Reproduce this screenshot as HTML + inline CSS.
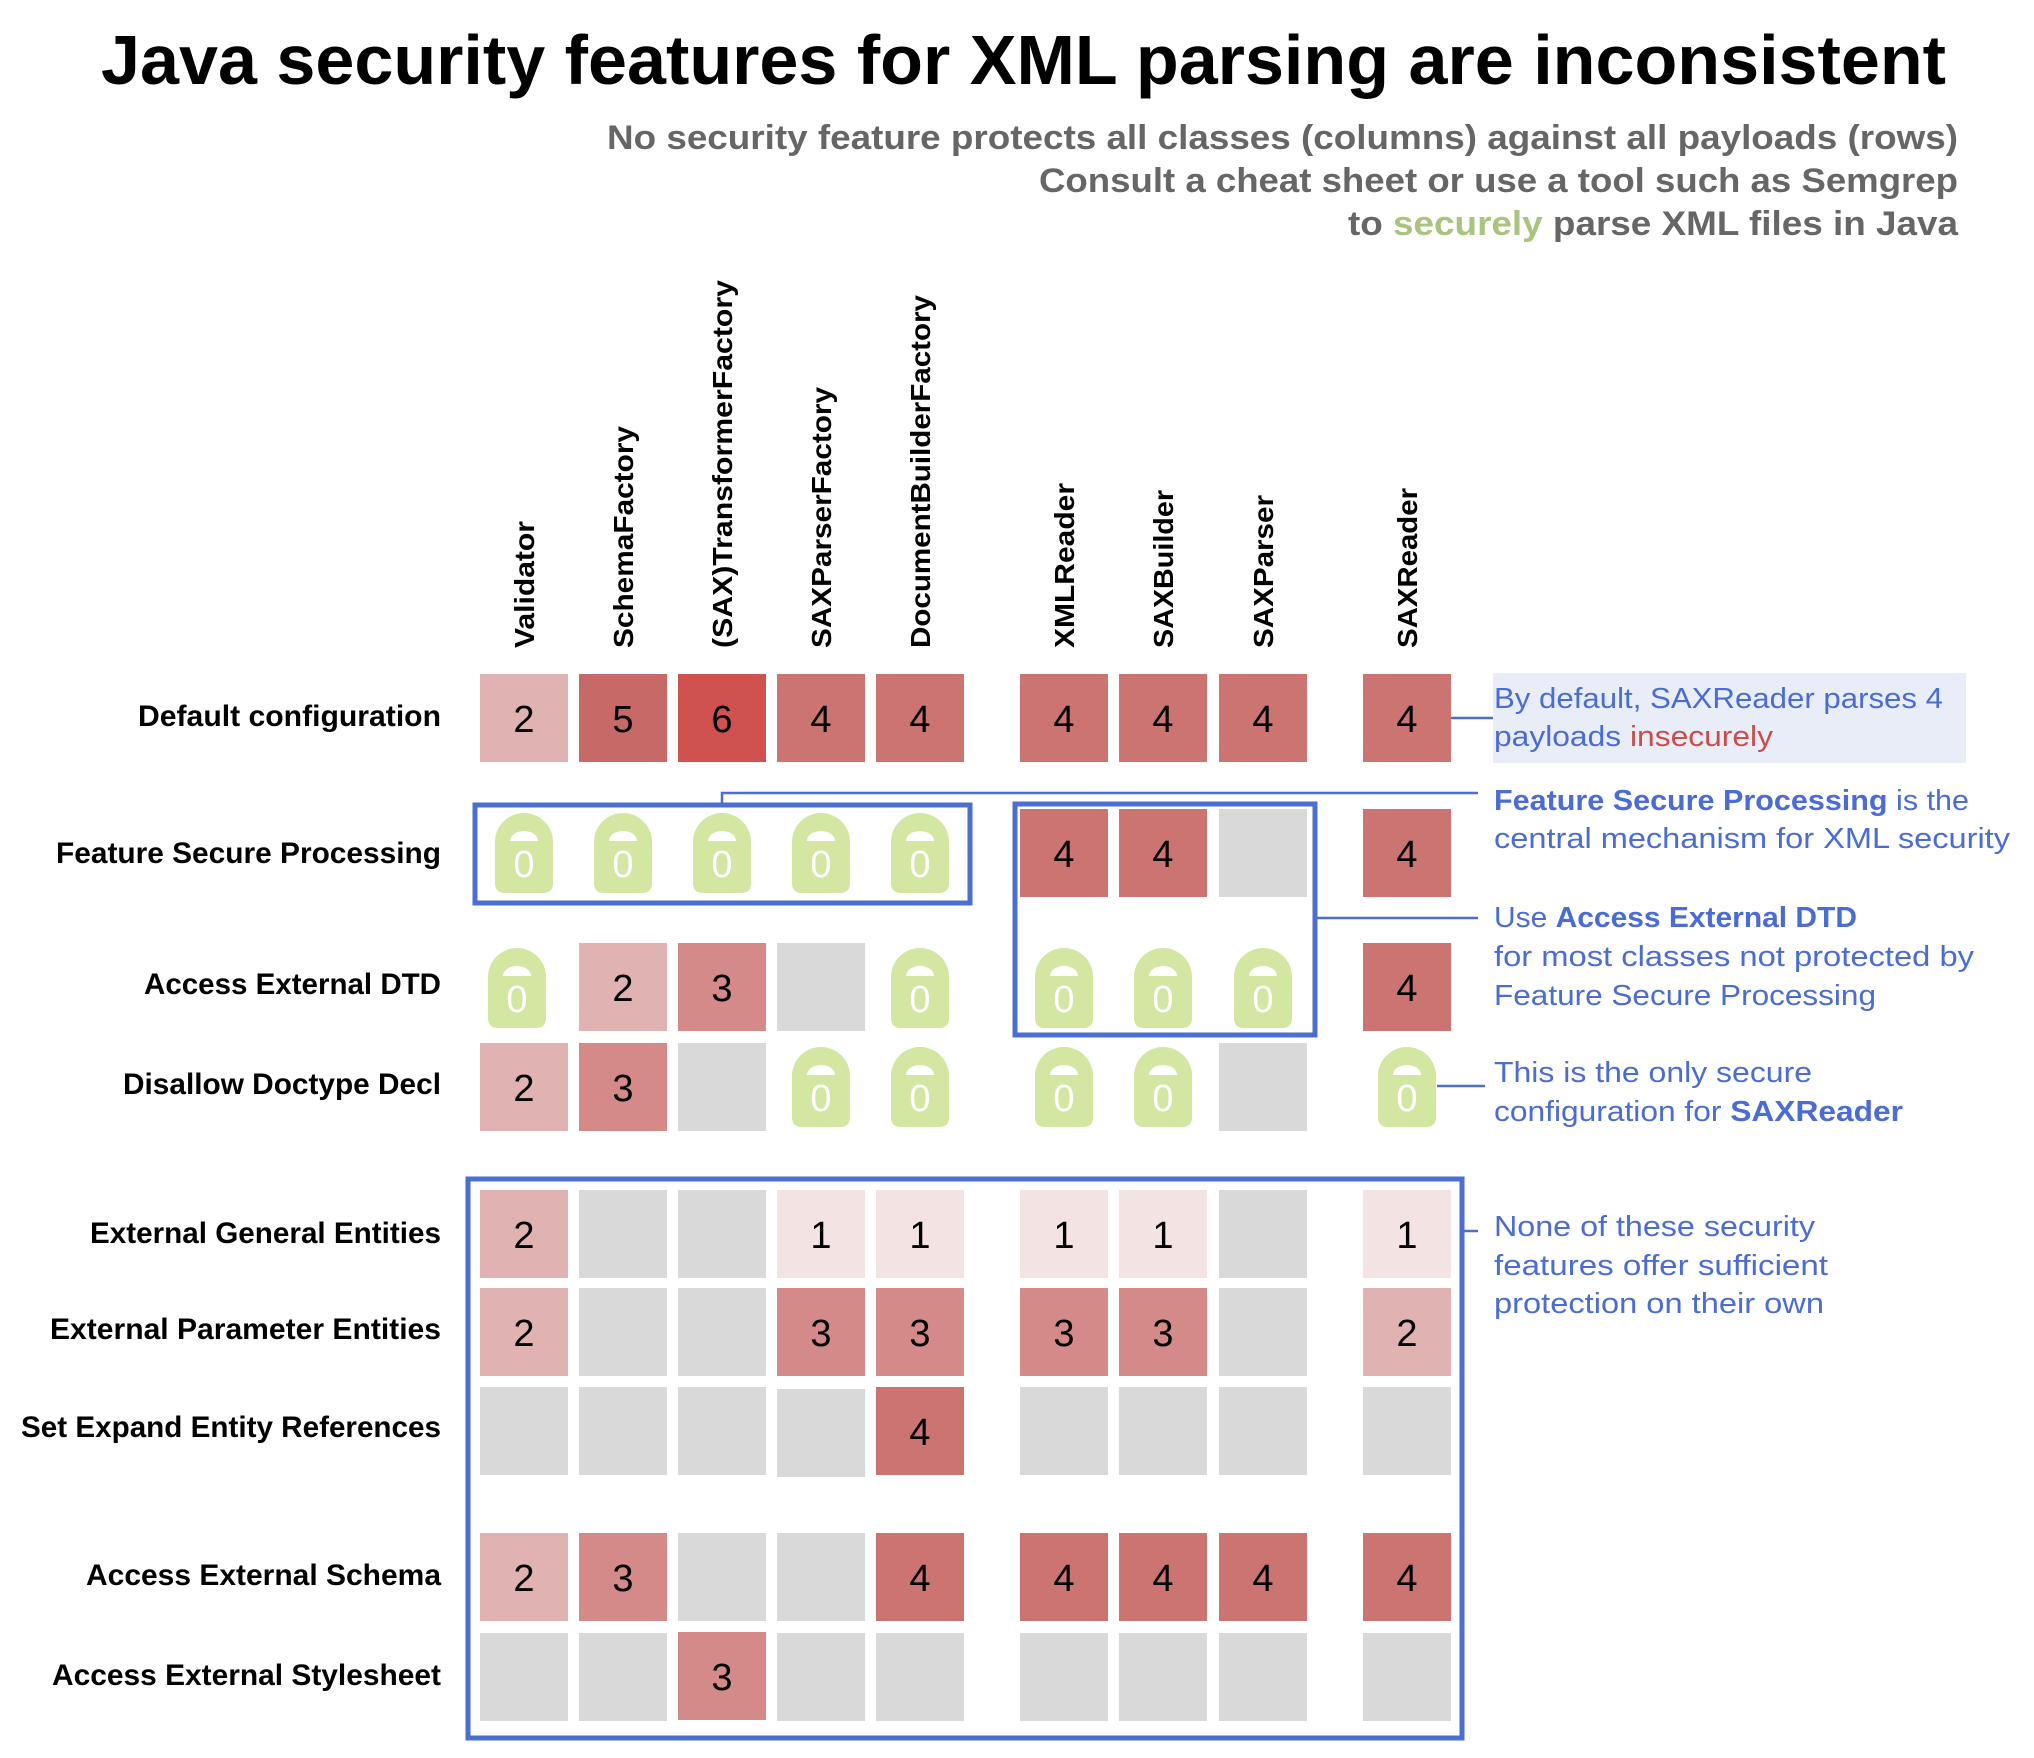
<!DOCTYPE html>
<html><head><meta charset="utf-8"><style>html,body{margin:0;padding:0;background:#fff}svg{display:block}</style></head>
<body>
<svg xmlns="http://www.w3.org/2000/svg" width="2034" height="1758" viewBox="0 0 2034 1758">
<defs>
<g id="lock">
<path d="M-29 0 A29 29 0 0 1 29 0 V41 Q29 51 19 51 H-19 Q-29 51 -29 41 Z" fill="#d3e6a2"/>
<path d="M-14 -1 A14 10 0 0 1 14 -1 Z" fill="#fff"/>
</g>
</defs>
<rect width="2034" height="1758" fill="#fff"/>
<g font-family="Liberation Sans, sans-serif" font-weight="bold">
<text x="101" y="84" font-size="70" textLength="1845" lengthAdjust="spacingAndGlyphs">Java security features for XML parsing are inconsistent</text>
<g fill="#666" font-size="34" text-anchor="end">
<text x="1966" y="149" textLength="1351" lengthAdjust="spacingAndGlyphs" transform="translate(-8,0)">No security feature protects all classes (columns) against all payloads (rows)</text>
<text x="1958" y="192" textLength="919" lengthAdjust="spacingAndGlyphs">Consult a cheat sheet or use a tool such as Semgrep</text>
<text x="1958" y="235" textLength="610" lengthAdjust="spacingAndGlyphs">to <tspan fill="#a9c47f">securely</tspan> parse XML files in Java</text>
</g>
<g font-size="28">
<text transform="translate(534,648) rotate(-90)" textLength="127" lengthAdjust="spacingAndGlyphs">Validator</text>
<text transform="translate(633,648) rotate(-90)" textLength="222" lengthAdjust="spacingAndGlyphs">SchemaFactory</text>
<text transform="translate(732,648) rotate(-90)" textLength="368" lengthAdjust="spacingAndGlyphs">(SAX)TransformerFactory</text>
<text transform="translate(831,648) rotate(-90)" textLength="261" lengthAdjust="spacingAndGlyphs">SAXParserFactory</text>
<text transform="translate(930,648) rotate(-90)" textLength="353" lengthAdjust="spacingAndGlyphs">DocumentBuilderFactory</text>
<text transform="translate(1074,648) rotate(-90)" textLength="165" lengthAdjust="spacingAndGlyphs">XMLReader</text>
<text transform="translate(1173,648) rotate(-90)" textLength="158" lengthAdjust="spacingAndGlyphs">SAXBuilder</text>
<text transform="translate(1273,648) rotate(-90)" textLength="153" lengthAdjust="spacingAndGlyphs">SAXParser</text>
<text transform="translate(1417,648) rotate(-90)" textLength="160" lengthAdjust="spacingAndGlyphs">SAXReader</text>
</g>
<g font-size="30" text-anchor="end">
<text x="441" y="726" textLength="303" lengthAdjust="spacingAndGlyphs">Default configuration</text>
<text x="441" y="870" textLength="385" lengthAdjust="spacingAndGlyphs" transform="translate(0,-7)">Feature Secure Processing</text>
<text x="441" y="994" textLength="297" lengthAdjust="spacingAndGlyphs">Access External DTD</text>
<text x="441" y="1094" textLength="318" lengthAdjust="spacingAndGlyphs">Disallow Doctype Decl</text>
<text x="441" y="1243" textLength="351" lengthAdjust="spacingAndGlyphs">External General Entities</text>
<text x="441" y="1339" textLength="391" lengthAdjust="spacingAndGlyphs">External Parameter Entities</text>
<text x="441" y="1437" textLength="420" lengthAdjust="spacingAndGlyphs">Set Expand Entity References</text>
<text x="441" y="1585" textLength="355" lengthAdjust="spacingAndGlyphs">Access External Schema</text>
<text x="441" y="1685" textLength="389" lengthAdjust="spacingAndGlyphs">Access External Stylesheet</text>
</g>
</g>

<g id="cells">
<rect x="480" y="674" width="88" height="88" fill="#e0b2b2"/>
<rect x="579" y="674" width="88" height="88" fill="#c76966"/>
<rect x="678" y="674" width="88" height="88" fill="#d0524f"/>
<rect x="777" y="674" width="88" height="88" fill="#cb7471"/>
<rect x="876" y="674" width="88" height="88" fill="#cb7471"/>
<rect x="1020" y="674" width="88" height="88" fill="#cb7471"/>
<rect x="1119" y="674" width="88" height="88" fill="#cb7471"/>
<rect x="1219" y="674" width="88" height="88" fill="#cb7471"/>
<rect x="1363" y="674" width="88" height="88" fill="#cb7471"/>
<rect x="1020" y="809" width="88" height="88" fill="#cb7471"/>
<rect x="1119" y="809" width="88" height="88" fill="#cb7471"/>
<rect x="1219" y="809" width="88" height="88" fill="#d9d9d9"/>
<rect x="1363" y="809" width="88" height="88" fill="#cb7471"/>
<rect x="579" y="943" width="88" height="88" fill="#e0b2b2"/>
<rect x="678" y="943" width="88" height="88" fill="#d48a88"/>
<rect x="777" y="943" width="88" height="88" fill="#d9d9d9"/>
<rect x="1363" y="943" width="88" height="88" fill="#cb7471"/>
<rect x="480" y="1043" width="88" height="88" fill="#e0b2b2"/>
<rect x="579" y="1043" width="88" height="88" fill="#d48a88"/>
<rect x="678" y="1043" width="88" height="88" fill="#d9d9d9"/>
<rect x="1219" y="1043" width="88" height="88" fill="#d9d9d9"/>
<rect x="480" y="1190" width="88" height="88" fill="#e0b2b2"/>
<rect x="579" y="1190" width="88" height="88" fill="#d9d9d9"/>
<rect x="678" y="1190" width="88" height="88" fill="#d9d9d9"/>
<rect x="777" y="1190" width="88" height="88" fill="#f3e3e3"/>
<rect x="876" y="1190" width="88" height="88" fill="#f3e3e3"/>
<rect x="1020" y="1190" width="88" height="88" fill="#f3e3e3"/>
<rect x="1119" y="1190" width="88" height="88" fill="#f3e3e3"/>
<rect x="1219" y="1190" width="88" height="88" fill="#d9d9d9"/>
<rect x="1363" y="1190" width="88" height="88" fill="#f3e3e3"/>
<rect x="480" y="1288" width="88" height="88" fill="#e0b2b2"/>
<rect x="579" y="1288" width="88" height="88" fill="#d9d9d9"/>
<rect x="678" y="1288" width="88" height="88" fill="#d9d9d9"/>
<rect x="777" y="1288" width="88" height="88" fill="#d48a88"/>
<rect x="876" y="1288" width="88" height="88" fill="#d48a88"/>
<rect x="1020" y="1288" width="88" height="88" fill="#d48a88"/>
<rect x="1119" y="1288" width="88" height="88" fill="#d48a88"/>
<rect x="1219" y="1288" width="88" height="88" fill="#d9d9d9"/>
<rect x="1363" y="1288" width="88" height="88" fill="#e0b2b2"/>
<rect x="480" y="1387" width="88" height="88" fill="#d9d9d9"/>
<rect x="579" y="1387" width="88" height="88" fill="#d9d9d9"/>
<rect x="678" y="1387" width="88" height="88" fill="#d9d9d9"/>
<rect x="777" y="1389" width="88" height="88" fill="#d9d9d9"/>
<rect x="876" y="1387" width="88" height="88" fill="#cb7471"/>
<rect x="1020" y="1387" width="88" height="88" fill="#d9d9d9"/>
<rect x="1119" y="1387" width="88" height="88" fill="#d9d9d9"/>
<rect x="1219" y="1387" width="88" height="88" fill="#d9d9d9"/>
<rect x="1363" y="1387" width="88" height="88" fill="#d9d9d9"/>
<rect x="480" y="1533" width="88" height="88" fill="#e0b2b2"/>
<rect x="579" y="1533" width="88" height="88" fill="#d48a88"/>
<rect x="678" y="1533" width="88" height="88" fill="#d9d9d9"/>
<rect x="777" y="1533" width="88" height="88" fill="#d9d9d9"/>
<rect x="876" y="1533" width="88" height="88" fill="#cb7471"/>
<rect x="1020" y="1533" width="88" height="88" fill="#cb7471"/>
<rect x="1119" y="1533" width="88" height="88" fill="#cb7471"/>
<rect x="1219" y="1533" width="88" height="88" fill="#cb7471"/>
<rect x="1363" y="1533" width="88" height="88" fill="#cb7471"/>
<rect x="480" y="1633" width="88" height="88" fill="#d9d9d9"/>
<rect x="579" y="1633" width="88" height="88" fill="#d9d9d9"/>
<rect x="678" y="1632" width="88" height="88" fill="#d48a88"/>
<rect x="777" y="1633" width="88" height="88" fill="#d9d9d9"/>
<rect x="876" y="1633" width="88" height="88" fill="#d9d9d9"/>
<rect x="1020" y="1633" width="88" height="88" fill="#d9d9d9"/>
<rect x="1119" y="1633" width="88" height="88" fill="#d9d9d9"/>
<rect x="1219" y="1633" width="88" height="88" fill="#d9d9d9"/>
<rect x="1363" y="1633" width="88" height="88" fill="#d9d9d9"/>
</g>

<g font-family="Liberation Sans, sans-serif" font-size="38" text-anchor="middle" fill="#000">
<text x="524" y="732">2</text><text x="623" y="732">5</text><text x="722" y="732">6</text><text x="821" y="732">4</text><text x="920" y="732">4</text>
<text x="1064" y="732">4</text><text x="1163" y="732">4</text><text x="1263" y="732">4</text><text x="1407" y="732">4</text>
<text x="1064" y="867">4</text><text x="1163" y="867">4</text><text x="1407" y="867">4</text>
<text x="623" y="1001">2</text><text x="722" y="1001">3</text><text x="1407" y="1001">4</text>
<text x="524" y="1101">2</text><text x="623" y="1101">3</text>
<text x="524" y="1248">2</text><text x="821" y="1248">1</text><text x="920" y="1248">1</text><text x="1064" y="1248">1</text><text x="1163" y="1248">1</text><text x="1407" y="1248">1</text>
<text x="524" y="1346">2</text><text x="821" y="1346">3</text><text x="920" y="1346">3</text><text x="1064" y="1346">3</text><text x="1163" y="1346">3</text><text x="1407" y="1346">2</text>
<text x="920" y="1445">4</text>
<text x="524" y="1591">2</text><text x="623" y="1591">3</text><text x="920" y="1591">4</text><text x="1064" y="1591">4</text><text x="1163" y="1591">4</text><text x="1263" y="1591">4</text><text x="1407" y="1591">4</text>
<text x="722" y="1690">3</text>
</g>

<g>
<use href="#lock" transform="translate(524,842)"/><use href="#lock" transform="translate(623,842)"/><use href="#lock" transform="translate(722,842)"/><use href="#lock" transform="translate(821,842)"/><use href="#lock" transform="translate(920,842)"/>
<use href="#lock" transform="translate(517,977)"/><use href="#lock" transform="translate(920,977)"/><use href="#lock" transform="translate(1064,977)"/><use href="#lock" transform="translate(1163,977)"/><use href="#lock" transform="translate(1263,977)"/>
<use href="#lock" transform="translate(821,1076)"/><use href="#lock" transform="translate(920,1076)"/><use href="#lock" transform="translate(1064,1076)"/><use href="#lock" transform="translate(1163,1076)"/><use href="#lock" transform="translate(1407,1076)"/>
</g>
<g font-family="Liberation Sans, sans-serif" font-size="38" text-anchor="middle" fill="#fff">
<text x="524" y="877">0</text><text x="623" y="877">0</text><text x="722" y="877">0</text><text x="821" y="877">0</text><text x="920" y="877">0</text>
<text x="517" y="1012">0</text><text x="920" y="1012">0</text><text x="1064" y="1012">0</text><text x="1163" y="1012">0</text><text x="1263" y="1012">0</text>
<text x="821" y="1111">0</text><text x="920" y="1111">0</text><text x="1064" y="1111">0</text><text x="1163" y="1111">0</text><text x="1407" y="1111">0</text>
</g>

<g fill="none" stroke="#4a6fd0">
<rect x="475" y="805" width="495" height="98" stroke-width="5"/>
<rect x="1015" y="804" width="300" height="231" stroke-width="5"/>
<rect x="468" y="1179" width="994" height="559" stroke-width="5"/>
<g stroke-width="2.5">
<path d="M1451 718 H1493"/>
<path d="M722 803 V793 H1478"/>
<path d="M1317 918 H1478"/>
<path d="M1437 1086 H1485"/>
<path d="M1464 1231 H1478"/>
</g>
</g>
<rect x="1493" y="673" width="473" height="90" fill="#e8edf8"/>

<g font-family="Liberation Sans, sans-serif" font-size="29" fill="#4a6cd4">
<text x="1494" y="708" textLength="449" lengthAdjust="spacingAndGlyphs">By default, SAXReader parses 4</text>
<text x="1494" y="746" textLength="279" lengthAdjust="spacingAndGlyphs">payloads <tspan fill="#cc4c4c">insecurely</tspan></text>
<text x="1494" y="810" textLength="475" lengthAdjust="spacingAndGlyphs"><tspan font-weight="bold">Feature Secure Processing</tspan> is the</text>
<text x="1494" y="848" textLength="516" lengthAdjust="spacingAndGlyphs">central mechanism for XML security</text>
<text x="1494" y="927" textLength="363" lengthAdjust="spacingAndGlyphs">Use <tspan font-weight="bold">Access External DTD</tspan></text>
<text x="1494" y="966" textLength="480" lengthAdjust="spacingAndGlyphs">for most classes not protected by</text>
<text x="1494" y="1005" textLength="382" lengthAdjust="spacingAndGlyphs">Feature Secure Processing</text>
<text x="1494" y="1082" textLength="318" lengthAdjust="spacingAndGlyphs">This is the only secure</text>
<text x="1494" y="1121" textLength="409" lengthAdjust="spacingAndGlyphs">configuration for <tspan font-weight="bold">SAXReader</tspan></text>
<text x="1494" y="1236" textLength="321" lengthAdjust="spacingAndGlyphs">None of these security</text>
<text x="1494" y="1275" textLength="334" lengthAdjust="spacingAndGlyphs">features offer sufficient</text>
<text x="1494" y="1313" textLength="330" lengthAdjust="spacingAndGlyphs">protection on their own</text>
</g>
</svg>
</body></html>
